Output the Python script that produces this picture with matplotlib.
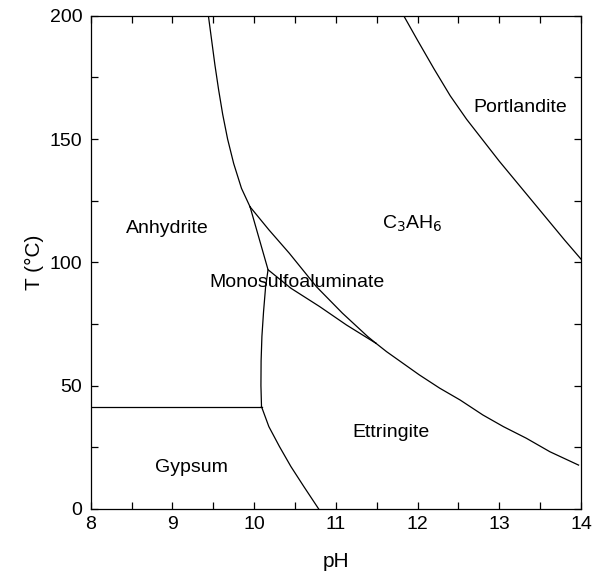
import matplotlib
matplotlib.use("Agg")
import matplotlib.pyplot as plt
from matplotlib.ticker import MultipleLocator

plt.rcParams['font.family'] = ['Liberation Sans', 'DejaVu Sans']

anidrita_c3ah6_ph = [9.44, 9.48, 9.52, 9.565, 9.615, 9.675, 9.75, 9.845, 9.95]
anidrita_c3ah6_t = [200, 190, 180, 170, 160, 150, 140, 130, 122.5]

anidrita_mono_ph = [9.95, 10.17, 10.14, 10.115, 10.095, 10.085, 10.083, 10.09]
anidrita_mono_t = [122.5, 97.0, 90.0, 80.0, 70.0, 60.0, 50.0, 41.5]

gipsita_ph = [8.0, 10.09]
gipsita_t = [41.5, 41.5]

gipsita_etr_ph = [10.09, 10.18, 10.31, 10.45, 10.61, 10.79]
gipsita_etr_t = [41.5, 33.4, 25.3, 17.2, 9.0, 0.0]

mono_c3ah6_ph = [9.95, 10.18, 10.43, 10.76, 11.08, 11.39, 11.49]
mono_c3ah6_t = [122.5, 113.2, 103.7, 90.2, 79.4, 69.9, 67.2]

mono_etr_ph = [10.17, 10.45, 10.80, 11.13, 11.49]
mono_etr_t = [97.0, 89.5, 82.1, 74.6, 67.2]

c3ah6_etr_ph = [11.49, 11.62, 12.02, 12.27, 12.52, 12.80, 13.05, 13.33, 13.62, 13.97]
c3ah6_etr_t = [67.2, 63.8, 54.4, 49.0, 44.2, 38.1, 33.4, 28.7, 23.2, 17.8]

portlandita_ph = [11.83, 12.0, 12.2, 12.4, 12.6, 12.8, 13.0, 13.2, 13.4, 13.6, 13.8, 14.0]
portlandita_t = [200, 190, 178.5, 167.5, 158, 149.5, 141, 133, 125, 117, 109, 101.3]

rotulos = ["Anhydrite", "C$_3$AH$_6$", "Portlandite", "Monosulfoaluminate", "Ettringite", "Gypsum"]
rotulos_ph = [8.94, 11.93, 13.26, 10.52, 11.67, 9.23]
rotulos_t = [111.7, 113.5, 161.0, 90.1, 29.2, 15.0]

fig = plt.figure(figsize=(5.98, 5.79), dpi=100)
ax = fig.add_axes([0.1517, 0.1209, 0.8199, 0.8520])

curvas = [
    (anidrita_c3ah6_ph, anidrita_c3ah6_t),
    (anidrita_mono_ph, anidrita_mono_t),
    (gipsita_ph, gipsita_t),
    (gipsita_etr_ph, gipsita_etr_t),
    (mono_c3ah6_ph, mono_c3ah6_t),
    (mono_etr_ph, mono_etr_t),
    (c3ah6_etr_ph, c3ah6_etr_t),
    (portlandita_ph, portlandita_t),
]
for xs, ys in curvas:
    ax.plot(xs, ys, color="black", lw=0.9, solid_joinstyle="round")

for txt, x, y in zip(rotulos, rotulos_ph, rotulos_t):
    ax.text(x, y, txt, fontsize=14, ha="center", va="baseline")

ax.set_xlim(8, 14)
ax.set_ylim(0, 200)
ax.xaxis.set_major_locator(MultipleLocator(1))
ax.xaxis.set_minor_locator(MultipleLocator(0.5))
ax.yaxis.set_major_locator(MultipleLocator(50))
ax.yaxis.set_minor_locator(MultipleLocator(25))
ax.tick_params(which="both", direction="in", top=True, right=True,
               labelsize=14, length=5, width=0.9)
ax.tick_params(axis="y", pad=6)
ax.tick_params(axis="x", pad=5)
for s in ax.spines.values():
    s.set_linewidth(0.9)

ax.set_xlabel("pH", fontsize=15, labelpad=14)
ax.set_ylabel("T (°C)", fontsize=15, labelpad=4)

fig.savefig("out.png", dpi=100)
